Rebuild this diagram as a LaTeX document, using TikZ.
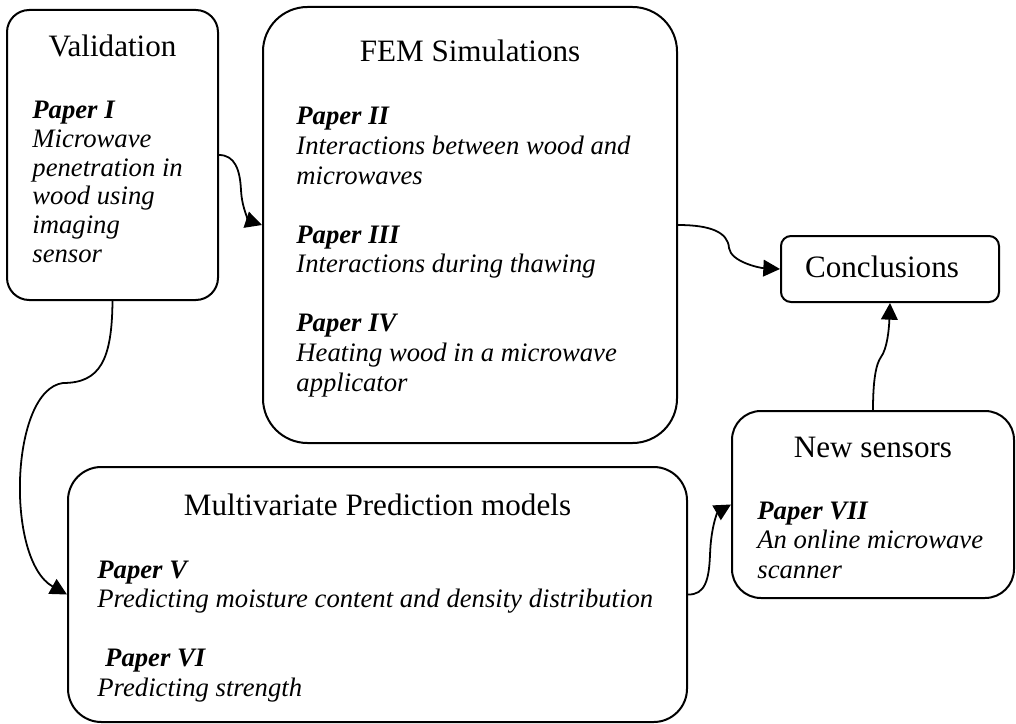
\documentclass[tikz,border=0pt]{standalone}
\usepackage{fontspec}
\setmainfont{Liberation Serif}
\usetikzlibrary{fit,arrows.meta}

\tikzset{
  box/.style={draw, line width=0.9pt, inner sep=0pt},
  heading/.style={font=\fontsize{14pt}{16pt}\selectfont, anchor=base, inner sep=0pt},
  body/.style={anchor=base west, inner sep=0pt},
  link/.style={line width=0.8pt, -{Triangle[length=7.5pt,width=7.5pt]}},
}
% paragraph block whose reference point is the first baseline
\newcommand\paperblock[3][13.3pt]{\parbox[t]{#2}{\fontsize{12pt}{#1}\selectfont\raggedright #3}}
\newcommand\pp[1]{\textbf{\textit{#1}}}

\begin{document}
\begin{tikzpicture}[x=0.45pt,y=-0.45pt]
\useasboundingbox (0,0) rectangle (1016,724);

% boxes
\node[box, rounded corners=10pt, fit={(7,10) (218,300)}] (val) {};
\node[box, rounded corners=20pt, fit={(263,7) (677,443)}] (fem) {};
\node[box, rounded corners=4.5pt, fit={(781,236) (999,302)}] (concl) {};
\node[box, rounded corners=13pt, fit={(732,411) (1014,598)}] (ns) {};
\node[box, rounded corners=15pt, fit={(68,467) (687,722)}] (mv) {};

% headings
\node[heading] (valh) at (112.5,57) {Validation};
\node[heading] (femh) at (470,62) {FEM Simulations};
\node[heading] (conclh) at (882,277) {Conclusions};
\node[heading] (nsh) at (873,457) {New sensors};
\node[heading] (mvh) at (377.5,515) {Multivariate Prediction models};

% paper descriptions
\node[body] (valt) at (32,119) {\paperblock[12.9pt]{90pt}{%
  \pp{Paper I}\\
  \textit{Microwave}\\
  \textit{penetration in}\\
  \textit{wood using}\\
  \textit{imaging}\\
  \textit{sensor}}};

\node[body] (femt) at (296,125) {\paperblock{170pt}{%
  \pp{Paper II}\\
  \textit{Interactions between wood and}\\
  \textit{microwaves}\\[13.3pt]
  \pp{Paper III}\\
  \textit{Interactions during thawing}\\[13.3pt]
  \pp{Paper IV}\\
  \textit{Heating wood in a microwave}\\
  \textit{applicator}}};

\node[body] (nst) at (757,519) {\paperblock{115pt}{%
  \pp{Paper VII}\\
  \textit{An online microwave}\\
  \textit{scanner}}};

\node[body] (mvt) at (97,578) {\paperblock{265pt}{%
  \pp{Paper V}\\
  \textit{Predicting moisture content and density distribution}\\[13.3pt]
  \hspace*{3.5pt}\pp{Paper VI}\\
  \textit{Predicting strength}}};

% connectors
\draw[link] (val.east) .. controls (235,155) and (240,170) .. (241,190)
  .. controls (242,210) and (250,221) .. (fem.west);
\draw[link] (fem.east) .. controls (710,225) and (728,232) .. (729,248)
  .. controls (731,262) and (760,268) .. (concl.west);
\draw[link] (ns.north) .. controls (873,380) and (876,364) .. (881,357)
  .. controls (887,349) and (889,330) .. (concl.south);
\draw[link] (mv.east) .. controls (705,595) and (709,580) .. (710,555)
  .. controls (711,525) and (718,512) .. (ns.west);
\draw[link] (val.south) .. controls (112,360) and (100,383) .. (63,383)
  .. controls (10,390) and (5,560) .. (mv.west);
\end{tikzpicture}
\end{document}
